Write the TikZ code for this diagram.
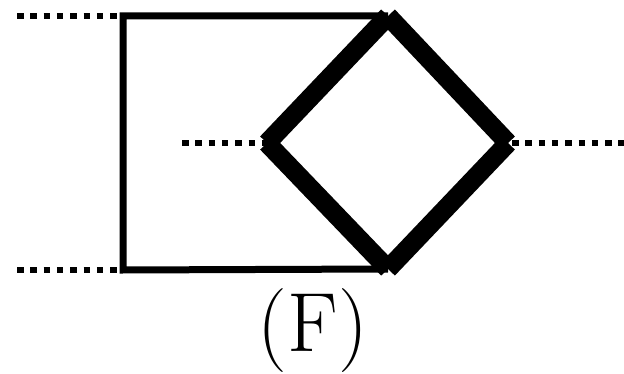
\documentclass[tikz,border=0pt]{standalone}
\usepackage{tikz}
\usetikzlibrary{positioning}
\tikzset{
  boxline/.style={line width=7pt,line cap=butt,line join=miter},
  fatline/.style={line width=19pt,line cap=butt},
  dotline/.style={line width=6.5pt,dash pattern=on 6.5pt off 6.8pt},
  caption/.style={font=\fontsize{84}{90}\selectfont,inner sep=0pt,anchor=base}
}

\begin{document}
\begin{tikzpicture}[x=1pt,y=-1pt]
  \useasboundingbox (0,0) rectangle (624,374);
  % corners of the box and of the diamond
  \coordinate (tl) at (123,16);
  \coordinate (bl) at (123,270);
  \coordinate (t) at (388,16);
  \coordinate (b) at (388,269);
  \coordinate (l) at (267,143);
  \coordinate (r) at (508,143);
  % loose ends of the dotted legs
  \coordinate (tle) at (17,16);
  \coordinate (ble) at (17,270);
  \coordinate (mle) at (182,143);
  \coordinate (re) at (624,143);
  \draw[boxline] (t) -- (tl) -- (bl) -- (b);
  \draw[fatline] (l) -- (t);
  \draw[fatline] (t) -- (r);
  \draw[fatline] (r) -- (b);
  \draw[fatline] (b) -- (l);
  \draw[dotline] (tle) -- (tl);
  \draw[dotline] (ble) -- (bl);
  \draw[dotline] (mle) -- (l);
  \draw[dotline,shorten <=4pt] (r) -- (re);
  \node[caption] (lbl) at (313,351) {(F)};
\end{tikzpicture}
\end{document}
